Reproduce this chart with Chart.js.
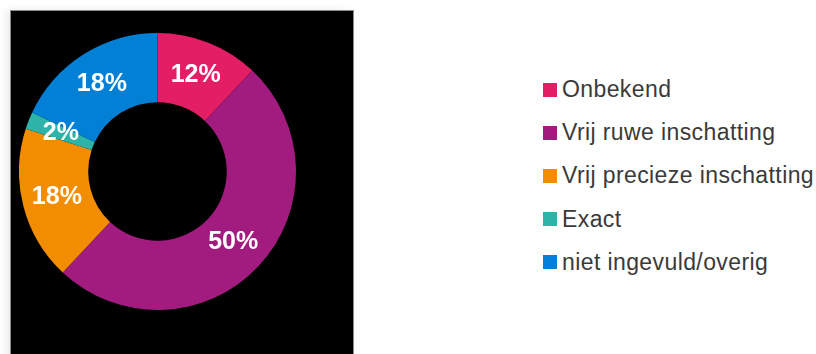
<!DOCTYPE html>
<html>
<head>
<meta charset="utf-8">
<script src="https://cdn.jsdelivr.net/npm/chart.js@4"></script>
<style>
  html, body { margin: 0; padding: 0; background: #fff; }
  body { width: 816px; height: 354px; position: relative; overflow: hidden; font-family: "Liberation Sans", Arial, sans-serif; }
  #panel {
    position: absolute; left: 10px; top: 10px; width: 342px; height: 350px;
    background: #000; border: 1px solid #8a8a8a;
    box-shadow: -4px 0 8px rgba(0,0,0,0.08);
  }
  #chartBox { position: absolute; left: 19px; top: 33px; width: 277px; height: 277px; }
  #legend { position: absolute; left: 543px; top: 68px; }
  .item { height: 43.2px; display: flex; align-items: center; font-size: 23px; letter-spacing: 0.4px; color: #3a3a3a; white-space: nowrap; }
  .swatch { width: 14px; height: 14px; margin-right: 5px; flex: none; }
</style>
</head>
<body>
<div id="panel"></div>
<div id="chartBox"><canvas id="donut"></canvas></div>
<div id="legend"></div>
<script>
// Categories and shares (%)
const labels = ["Onbekend", "Vrij ruwe inschatting", "Vrij precieze inschatting", "Exact", "niet ingevuld/overig"];
const shares = [12, 50, 18, 2, 18];
const colors = ['#e31e64', '#a21b7e', '#f28c00', '#2eb3a8', '#0280d6'];

// Percentage labels drawn in the middle of every slice
const sliceLabels = {
  id: 'sliceLabels',
  afterDatasetsDraw(chart) {
    const ctx = chart.ctx;
    const meta = chart.getDatasetMeta(0);
    ctx.save();
    ctx.fillStyle = '#fff';
    ctx.font = 'bold 25px "Liberation Sans", Arial, sans-serif';
    ctx.textAlign = 'center';
    ctx.textBaseline = 'middle';
    meta.data.forEach((arc, i) => {
      const p = arc.tooltipPosition();
      ctx.fillText(shares[i] + '%', p.x, p.y);
    });
    ctx.restore();
  }
};

const ctx = document.getElementById('donut').getContext('2d');
new Chart(ctx, {
  type: 'doughnut',
  data: {
    labels: labels,
    datasets: [{
      data: shares,
      backgroundColor: colors,
      borderWidth: 0,
      hoverOffset: 0
    }]
  },
  options: {
    responsive: true,
    maintainAspectRatio: false,
    animation: false,
    cutout: '50%',
    layout: { padding: 0 },
    plugins: {
      legend: { display: false },
      tooltip: { enabled: false }
    }
  },
  plugins: [sliceLabels]
});

// Legend on the right
const legend = document.getElementById('legend');
labels.forEach((name, i) => {
  const row = document.createElement('div');
  row.className = 'item';
  const sw = document.createElement('span');
  sw.className = 'swatch';
  sw.style.backgroundColor = colors[i];
  row.appendChild(sw);
  row.appendChild(document.createTextNode(name));
  legend.appendChild(row);
});
</script>
</body>
</html>
